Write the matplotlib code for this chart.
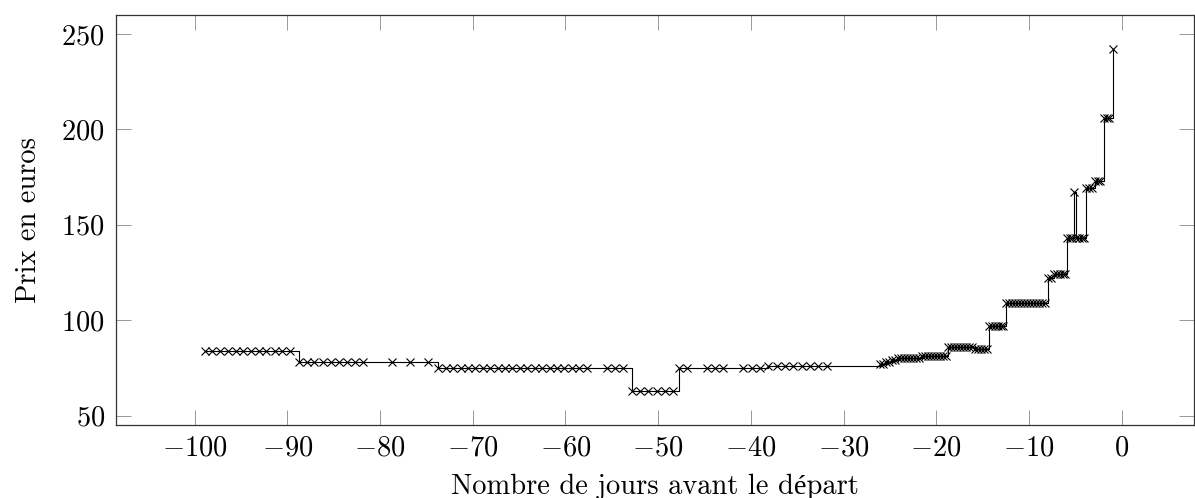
import matplotlib

matplotlib.use("Agg")
import matplotlib.pyplot as plt
from matplotlib.ticker import ScalarFormatter

days = [
    # 84
    -98.9, -98.1, -97.3, -96.4, -95.6, -94.8, -93.9, -93.1, -92.3, -91.4, -90.6, -89.7,
    # 78
    -88.8, -87.9, -87.1, -86.2, -85.3, -84.4, -83.6, -82.7, -81.8, -78.75, -76.77, -74.80,
    # 75
    -73.72, -72.92, -72.12, -71.32, -70.52, -69.72, -68.92, -68.12, -67.32, -66.52, -65.72,
    -64.92, -64.12, -63.32, -62.52, -61.72, -60.92, -60.12, -59.32, -58.52, -57.71,
    -55.56, -54.66, -53.76,
    # 63
    -52.86, -51.96, -51.07, -50.16, -49.27, -48.37,
    # 75
    -47.72, -46.93, -44.77, -43.87, -42.98, -40.82, -39.91, -39.02,
    # 76
    -38.12, -37.22, -36.32, -35.43, -34.52, -33.62, -32.73, -31.82,
    # dense part near departure
    -26.07, -25.75, -25.43, -25.10,
    -24.78, -24.46, -24.13, -23.81, -23.49, -23.16, -22.84, -22.52, -22.19, -21.87,
    -21.55, -21.22, -20.90, -20.58, -20.26, -19.93, -19.61, -19.28, -18.96,
    -18.69, -18.40, -18.08, -17.75, -17.43, -17.11, -16.78, -16.46, -16.13,
    -15.81, -15.49, -15.16, -14.84, -14.52,
    -14.28, -13.98, -13.66, -13.34, -13.02, -12.75,
    -12.48, -12.16, -11.83, -11.51, -11.19, -10.86, -10.54, -10.22, -9.89, -9.57,
    -9.25, -8.92, -8.60, -8.28,
    -7.92, -7.63, -7.30, -6.98, -6.66, -6.33, -6.05,
    -5.87, -5.58, -5.31, -5.12, -4.86, -4.61, -4.29, -4.02,
    -3.86, -3.53, -3.21, -2.91, -2.59, -2.27,
    -1.94, -1.62, -1.30, -0.91,
]
prices = [
    84, 84, 84, 84, 84, 84, 84, 84, 84, 84, 84, 84,
    78, 78, 78, 78, 78, 78, 78, 78, 78, 78, 78, 78,
    75, 75, 75, 75, 75, 75, 75, 75, 75, 75, 75,
    75, 75, 75, 75, 75, 75, 75, 75, 75, 75,
    75, 75, 75,
    63, 63, 63, 63, 63, 63,
    75, 75, 75, 75, 75, 75, 75, 75,
    76, 76, 76, 76, 76, 76, 76, 76,
    77, 77, 78, 78,
    79, 79, 80, 80, 80, 80, 80, 80, 80, 80,
    81, 81, 81, 81, 81, 81, 81, 81, 81,
    86, 86, 86, 86, 86, 86, 86, 86, 86,
    85, 85, 85, 85, 85,
    97, 97, 97, 97, 97, 97,
    109, 109, 109, 109, 109, 109, 109, 109, 109, 109,
    109, 109, 109, 109,
    122, 122, 124, 124, 124, 124, 124,
    143, 143, 143, 167, 143, 143, 143, 143,
    169, 169, 169, 173, 173, 173,
    206, 206, 206, 242,
]

x_ticks = list(range(-100, 1, 10))
y_ticks = [50, 100, 150, 200, 250]

plt.rcParams["font.family"] = ["cmr10", "Liberation Serif"]
plt.rcParams["mathtext.fontset"] = "cm"
plt.rcParams["axes.formatter.use_mathtext"] = True

fig = plt.figure(figsize=(11.95, 4.98), dpi=100)
ax = fig.add_axes([0.0971, 0.1466, 0.9019, 0.8233])

ax.plot(days, prices, drawstyle="steps-post", color="black", linewidth=0.8,
        marker="x", markersize=5.5, markeredgewidth=0.8)

ax.set_xlim(-108.5, 7.8)
ax.set_ylim(45.1, 259.9)
ax.set_xticks(x_ticks)
ax.set_yticks(y_ticks)
ax.xaxis.set_major_formatter(ScalarFormatter(useMathText=True))
ax.yaxis.set_major_formatter(ScalarFormatter(useMathText=True))

ax.tick_params(direction="in", length=11, width=0.6, color="#888888",
               top=True, right=True, labelsize=20.5)
ax.tick_params(axis="x", pad=7)
ax.tick_params(axis="y", pad=8)
for s in ax.spines.values():
    s.set_linewidth(0.9)
    s.set_color("#333333")

ax.set_xlabel("Nombre de jours avant le départ", fontsize=20.5, labelpad=9)
ax.set_ylabel("Prix en euros", fontsize=20.5, labelpad=14)

fig.savefig("out.png", dpi=100)
